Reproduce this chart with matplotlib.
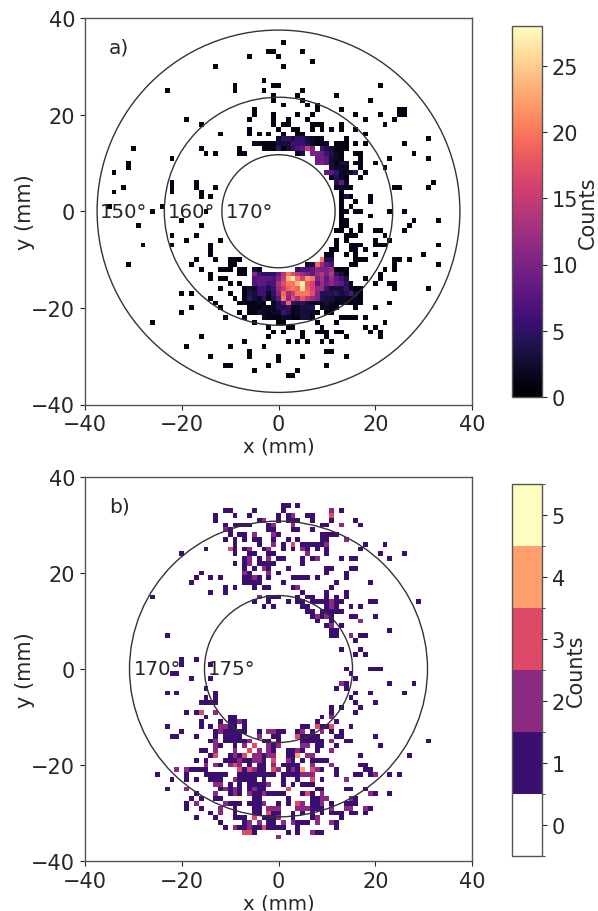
import numpy as np
import matplotlib
matplotlib.use("Agg")
import matplotlib.pyplot as plt
from matplotlib.colors import BoundaryNorm, ListedColormap
from matplotlib.patches import Circle

# panel a: isolated bins with one count, y bin -> x bins
a_ones = {
    35: [1], 33: [-2, -1, 5], 32: [-6, 0], 31: [7], 30: [-13, 1], 27: [-3],
    26: [-9, -1, 0, 21], 25: [-23, -9, -3, 5], 24: [-1, 4, 12], 23: [-1, 5, 19],
    22: [1, 6, 8], 21: [-5, 8, 13, 25, 26], 20: [-5, -1, 4, 7, 16, 21, 25, 26],
    19: [-19, -6, -1, 2, 6, 18, 24], 18: [-16, -1, 1, 2, 7, 8, 9, 13, 22],
    17: [-6, 0, 3, 4, 7, 9, 11, 13, 16], 16: [-12, -6, -4, -2, 1, 4, 5, 18],
    15: [14, 31], 14: [16, 18, 26], 13: [-30, -16, -8], 12: [-15, -13, -8, -7, 16, 17, 28],
    11: [-22, 17, 23, 31], 10: [-31, 16, 17, 20], 9: [-31, 17, 22], 8: [-34, 18],
    7: [17], 6: [-22, -17, 32], 5: [-32, -22, -17, -13, 24, 25, 31], 4: [-34, -22, -16, 13],
    3: [-16, -14, 19], 2: [13, 16, 19], 1: [-35, -24, 13, 15],
    0: [-26, -15, 13, 14, 16, 17, 23, 26], -1: [13, 19], -2: [-20, 13, 14, 28, 33],
    -3: [-29, -16, 13, 14, 17, 27], -4: [12, 13, 15, 17, 20, 21, 26],
    -5: [-22, -17, 14, 15, 16, 22], -6: [-19, -12, 12, 14, 20, 23],
    -7: [-28, -22, -14, 12, 15, 16, 17, 20, 21, 22, 33], -8: [-14, 11, 12, 15, 16, 18],
    -9: [-14, 10, 11, 14, 16, 20, 30], -10: [-17, -13, -10, -9, -8, 16, 17, 18, 24, 25, 27],
    -11: [-31, -18, -10, -9, 15, 16, 24, 33], -12: [-16, -12, -11, -10, -8, -7, 12, 22, 24],
    -13: [-14, -8, -7, 21], -14: [-14, -12, -11, 18, 21], -15: [-10, -8, 20, 23, 24],
    -16: [-12, -7, 16, 17, 24, 31], -17: [-20, -18, -10, -7, 17], -18: [-14, -9, 17],
    -19: [-13, -8, 23], -20: [-18, -12, 16, 20], -21: [-20, -8],
    -22: [-11, -7, 13, 14, 15, 16, 18], -23: [-26, -5, 0, 1, 8, 12, 22],
    -24: [-2, 2, 3, 9, 18, 20], -25: [-1, 1, 5, 8, 9, 10, 12, 13, 19, 21],
    -26: [-16, -2, 5, 10, 14, 21], -27: [-7, 2, 4, 6, 9, 11], -28: [-19, -10, -3],
    -29: [-6, 10, 11], -30: [-14, -6, 0, 5, 14], -31: [0], -32: [-11, -10, -2, 10],
    -33: [-5, 4], -34: [2, 3],
}
# panel a: the two bright arcs, y bin -> (first x bin, counts)
a_core = {
    15: (0, [2, 5, 5, 3, 5, 5, 3, 2, 1, 2]),
    14: (-5, [2, 2, 1, 1, 1, 3, 3, 3, 6, 6, 6, 4, 2, 1, 1, 2, 0, 1, 1, 1]),
    13: (-3, [1, 1, 1, 5, 1, 3, 5, 7, 8, 15, 10, 0, 6, 4, 3, 1, 1, 1]),
    12: (4, [1, 3, 0, 10, 10, 9, 6, 4, 2, 1]),
    11: (8, [9, 9, 8, 3, 2, 1]),
    10: (8, [9, 10, 8, 3, 1, 3, 3]),
    9: (11, [3, 2, 2, 2]),
    8: (10, [8, 8, 5, 2, 2, 2, 5]),
    7: (11, [1, 4, 2, 1]),
    6: (12, [4, 8, 2]),
    5: (12, [1, 2, 2, 1]),
    3: (13, [1, 4, 1]),
    -10: (9, [20, 4, 4]),
    -11: (6, [2, 3, 19, 12, 8, 7]),
    -12: (-5, [3, 1, 0, 0, 0, 0, 0, 0, 0, 5, 7, 7, 8, 11, 10, 10, 12, 1, 1, 1]),
    -13: (-5, [11, 6, 5, 5, 5, 8, 14, 20, 17, 14, 12, 10, 8, 12, 14, 10, 14, 5, 3, 1]),
    -14: (-5, [7, 8, 8, 8, 7, 10, 15, 24, 27, 20, 16, 22, 20, 10, 13, 8, 12, 8, 6, 4]),
    -15: (-5, [7, 8, 8, 6, 7, 13, 17, 20, 20, 24, 27, 18, 16, 8, 12, 9, 11, 9, 8, 5, 1]),
    -16: (-6, [3, 2, 6, 6, 4, 6, 12, 15, 19, 20, 19, 26, 19, 16, 12, 12, 6, 3, 3, 3, 5, 2]),
    -17: (-6, [4, 3, 6, 6, 2, 5, 10, 19, 12, 15, 20, 20, 20, 17, 10, 4, 4, 4, 5, 3, 4, 7, 3]),
    -18: (-7, [1, 5, 3, 2, 5, 1, 4, 8, 20, 11, 17, 13, 18, 14, 12, 10, 4, 3, 3, 2, 2, 2, 1, 2, 1]),
    -19: (-7, [1, 1, 1, 2, 1, 0, 2, 4, 7, 19, 5, 4, 5, 3, 2, 2, 2, 3, 2, 1, 2, 2, 1, 1, 1]),
    -20: (-6, [1, 1, 1, 2, 1, 2, 4, 4, 5, 1, 2, 3, 3, 4, 0, 2, 2, 1, 1]),
    -21: (-6, [1, 1, 3, 2, 1, 2, 2, 6, 4, 1, 2, 3, 3, 2, 1, 0, 1, 1]),
    -22: (-3, [2, 1, 1, 1, 2, 2, 1, 1, 3, 3, 1]),
}

# panel b: y bin -> x bins, one dict per count
b_ones = {
    34: [1, 2, 4], 33: [-11, -10, -5, 1, 13], 32: [-13, -9, -6, 0, 2, 6, 7],
    31: [-13, -4, 0, 2, 3, 4, 7, 11, 16], 30: [-11, -9, -8, -7, -6, -2, 9, 10, 17],
    29: [-10, -2, -1, 3, 4, 7], 28: [-10, -8, -7, 0, 9, 10, 11, 12],
    27: [-11, -9, -7, -5, -4, -1, 2, 4, 9, 10], 26: [-9, -4, 1, 5, 6, 7, 8, 9, 18, 22],
    25: [-15, -9, -7, -3, 1, 3, 6, 8, 10, 17], 24: [-20, -9, -6, -5, -2, -1, 10, 21, 26],
    23: [-7, -4, 0, 1, 5, 7, 13, 15, 16, 23], 22: [-9, -7, -4, -3, -2, -1, 5],
    21: [-7, -5, -2, 2, 10, 11, 15, 16], 20: [-16, -6, 0, 10, 14],
    19: [-17, -14, -12, -7, -6, -4, -2, 3, 4, 5, 6, 8, 14], 18: [-18, -7, -6, -5, -4, 1, 12, 19],
    17: [-11, -9, -5, -3, -2, 3, 11], 16: [-14, -11, 5, 10, 14],
    15: [-26, -2, -1, 0, 4, 6, 7, 10, 12, 14], 14: [-5, -2, 2, 4, 5, 7, 8, 9, 10, 12, 13, 19, 20, 29],
    13: [-3, -1, 5, 6, 10, 12, 15, 17], 12: [6, 7, 9, 10, 11, 12, 13], 11: [7, 9, 11, 15, 16, 20],
    10: [8, 11], 9: [10, 13], 8: [11, 12, 23], 7: [-23, 11, 12, 17, 18], 6: [16], 4: [13, 17],
    3: [16, 18], 2: [-20, -17], 1: [-20, -14], 0: [14, 19, 20, 21], -1: [-22, -21, 15],
    -2: [-18, -14, 16], -3: [14, 23, 28], -4: [-15, 12, 14], -5: [-23, -21, -13, 16, 19, 26],
    -6: [-15, -13, 15], -7: [-16, -15, -14, -13, 16, 20], -8: [11, 13, 17],
    -9: [-19, -17, 11, 16], -10: [-15, -10, -9, 9], -11: [-16, -12, -10, -9, -7, 8, 12],
    -12: [-23, -16, -14, -12, -10, -9, -7, 5, 6, 9, 10, 15],
    -13: [-20, -13, -11, -10, -9, -8, -7, -4, 0, 1, 4, 7, 11, 13],
    -14: [-22, -21, -17, -13, -11, -10, -9, -8, -1, 0, 5, 6, 7, 8, 12, 13, 20],
    -15: [-14, -11, -10, -9, -8, -7, -3, -2, 0, 5, 6, 7, 8, 9, 14, 15, 31],
    -16: [-12, -9, -1, 8, 9, 12, 21], -17: [-16, -15, -1, 2, 3, 5, 8],
    -18: [-14, -10, -8, -3, 2, 3, 17, 27],
    -19: [-17, -15, -11, -10, -9, -7, -6, -3, 3, 5, 7, 8, 9, 10],
    -20: [-12, -6, -4, -3, 1, 2, 3, 4, 17, 18],
    -21: [-18, -17, -16, -15, -7, -4, -3, 2, 4, 9, 12, 18, 19],
    -22: [-25, -19, -15, -14, -13, -12, -11, -8, -7, -6, -5, -4, -3, -2, -1, 1, 2, 3, 4, 12, 16, 17, 19, 23, 25],
    -23: [-22, -19, -17, -14, -13, -12, -8, -7, -6, -5, -3, 1, 4, 9],
    -24: [-10, -8, -6, -5, -4, -3, 1, 3, 5, 6, 7], -25: [-23, -12, -10, -8, -6, -4, -3, 8, 9, 14, 15, 18],
    -26: [-17, -10, -8, -5, -4, -2, -1, 0, 1, 5, 7, 20, 23], -27: [-18, -16, -13, -12, -5, -4, 2, 7, 8, 16],
    -28: [-19, -10, -9, -8, -6, -5, -4, 0, 2, 7, 8, 11, 14, 15, 16],
    -29: [-19, -16, -9, -5, -4, 7, 8, 9, 19], -30: [-14, -9, -5, -4, -1, 0, 3, 5, 7, 9, 11, 12, 13, 15, 16, 18],
    -31: [-17, -13, -9, -8, -7, -3, -2, -1, 3, 7, 13], -32: [-12, -7, -2, -1, 4, 5, 6, 12],
    -33: [-11, -8, -7, -5, -4, -2, -1, 0, 1, 4, 12], -34: [-5, 2, 4, 8, 9],
}
b_twos = {
    33: [11], 32: [3], 31: [-3], 30: [-1, 3, 13], 29: [-11], 28: [-5, -1], 27: [14],
    26: [-1, 10], 25: [-6, -2, 5], 24: [6], 23: [-6, -2, 8], 22: [-6], 21: [-3], 20: [-7, -2],
    19: [-5], 17: [4], 15: [-4], 14: [11], 13: [11], 11: [8, 10], 10: [17], 9: [11], 7: [15],
    -3: [13], -9: [-13], -10: [11], -11: [-8], -12: [-12, -11], -13: [-12, -2, -1, 5, 9],
    -14: [-4], -15: [-13, -6, 11], -16: [-13, -7, -2, 0, 5, 6], -17: [-13, -9, -4, -2, 4, 11],
    -18: [-9, -5, -4, -2, -1, 6, 7], -19: [-8, -5, -4, 2],
    -20: [-15, -13, -10, -8, -1, 7, 11], -21: [-21, -19, -5, 0, 3, 8],
    -22: [5, 6, 7, 20], -23: [-9, 14], -24: [-13, -12, -2], -25: [-19, -11, -9, -5],
    -26: [-13, -9, -6, -3, 9, 19], -27: [9, 10, 15], -28: [-17, -11, -3, 5, 9],
    -29: [-12, -2, -1, 0, 4, 5, 6, 11, 14, 15, 18], -30: [-12], -31: [0, 8],
    -32: [-6, -4, 1, 3, 8, 11], -33: [-9, -6], -34: [7], -35: [0],
}
b_threes = {
    32: [11], 26: [3], 25: [-10], -9: [-16], -12: [8, 11], -14: [4], -16: [-5], -17: [-6],
    -18: [-13, -7], -19: [-1], -20: [-9], -21: [-8, -6, -1, 7], -23: [7], -25: [2], -26: [6],
    -28: [4], -30: [-2], -31: [-5], -33: [-3], -34: [-7, -6],
}
b_fours = {-18: [4], -21: [5]}
b_fives = {-18: [-6, 0], -27: [-8]}

a_ticks = [0, 5, 10, 15, 20, 25]
b_ticks = [0, 1, 2, 3, 4, 5]
b_bounds = [-0.5, 0.5, 1.5, 2.5, 3.5, 4.5, 5.5]
a_radii = [11.7, 23.6, 37.5]
b_radii = [15.3, 30.8]
a_ring_labels = [(-37, "150°"), (-22.8, "160°"), (-10.8, "170°")]
b_ring_labels = [(-30, "170°"), (-14.5, "175°")]

INK = "#262626"
plt.rcParams.update({"font.family": "DejaVu Sans", "font.size": 14.2, "text.color": INK,
                     "axes.labelcolor": INK, "xtick.color": INK, "ytick.color": INK,
                     "xtick.labelsize": 15, "ytick.labelsize": 15,
                     "axes.edgecolor": "#555555", "axes.linewidth": 1.0})


def empty_grid():
    return np.zeros((81, 81))


def put(grid, rows, count):
    for y, xs in rows.items():
        for x in xs:
            grid[y + 40, x + 40] = count


def style_axes(ax, tag):
    ax.set_xlim(-40, 40)
    ax.set_ylim(-40, 40)
    ax.set_xticks([-40, -20, 0, 20, 40])
    ax.set_yticks([-40, -20, 0, 20, 40])
    ax.set_xlabel("x (mm)", labelpad=2)
    ax.set_ylabel("y (mm)", labelpad=-3, fontsize=15)
    ax.text(-35, 34, tag, ha="left", va="center", fontsize=14.5)


def rings(ax, radii, labels):
    for r in radii:
        ax.add_patch(Circle((0, 0), r, fill=False, ec="#333333", lw=1.0))
    for x, s in labels:
        ax.text(x, 0, s, ha="left", va="center", fontsize=14.2)


grid_a = empty_grid()
put(grid_a, a_ones, 1)
for y, (x0, vals) in a_core.items():
    for i, v in enumerate(vals):
        grid_a[y + 40, x0 + 40 + i] = v

grid_b = empty_grid()
for rows, count in [(b_ones, 1), (b_twos, 2), (b_threes, 3), (b_fours, 4), (b_fives, 5)]:
    put(grid_b, rows, count)

edges = np.arange(-40.5, 41.5)
W, H = 598, 912
fig = plt.figure(figsize=(W / 100, H / 100), dpi=100)


def box(l, t, r, b):
    return [l / W, 1 - b / H, (r - l) / W, (b - t) / H]


ax1 = fig.add_axes(box(85, 19, 472, 405.5))
mesh1 = ax1.pcolormesh(edges, edges, np.ma.masked_equal(grid_a, 0), cmap="magma", vmin=0, vmax=28)
style_axes(ax1, "a)")
rings(ax1, a_radii, a_ring_labels)
cax1 = fig.add_axes(box(512, 27, 542, 398))
cb1 = fig.colorbar(mesh1, cax=cax1, ticks=a_ticks)
cb1.set_label("Counts", fontsize=15)
cax1.yaxis.set_label_coords(2.2, 0.5)

ax2 = fig.add_axes(box(85, 478, 472, 862))
steps = ListedColormap(["white", "#3b0f70", "#8c2981", "#de4968", "#fe9f6d", "#fcfdbf"])
norm = BoundaryNorm(b_bounds, steps.N)
mesh2 = ax2.pcolormesh(edges, edges, grid_b, cmap=steps, norm=norm)
style_axes(ax2, "b)")
rings(ax2, b_radii, b_ring_labels)
cax2 = fig.add_axes(box(512, 485, 542, 857))
cb2 = fig.colorbar(mesh2, cax=cax2, ticks=b_ticks)
cax2.yaxis.set_ticks(b_bounds, minor=True)
cax2.tick_params(which="minor", length=2)
cb2.set_label("Counts", fontsize=15)
cax2.yaxis.set_label_coords(1.8, 0.5)

fig.savefig("out.png", dpi=100)
